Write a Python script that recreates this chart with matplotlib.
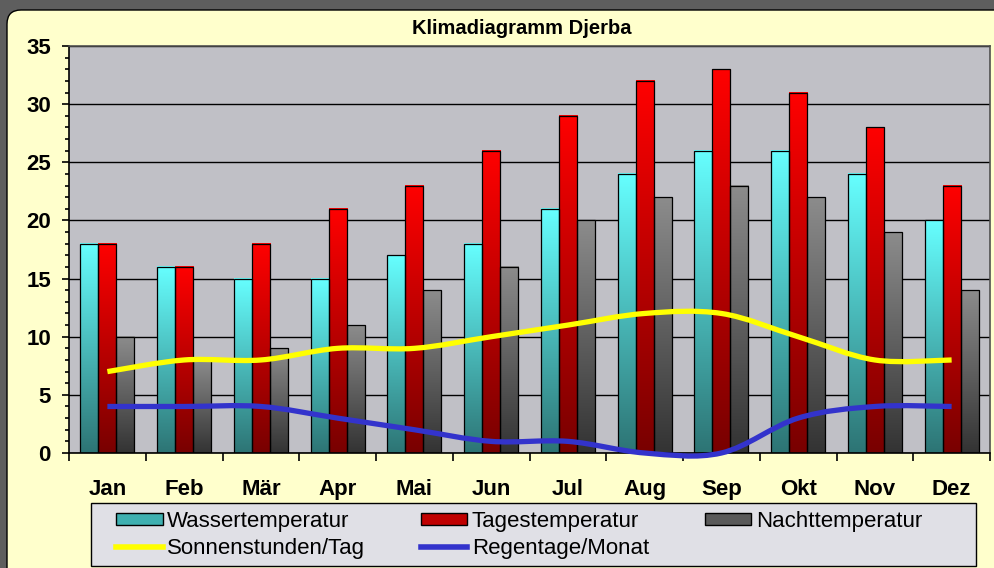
import matplotlib
matplotlib.use("Agg")
import matplotlib.pyplot as plt
import numpy as np
from matplotlib.colors import LinearSegmentedColormap
from matplotlib.patches import FancyBboxPatch, Patch, PathPatch, Rectangle
from matplotlib.path import Path
from matplotlib.lines import Line2D
from matplotlib.transforms import IdentityTransform

months = ['Jan', 'Feb', 'Mär', 'Apr', 'Mai', 'Jun', 'Jul', 'Aug', 'Sep', 'Okt', 'Nov', 'Dez']
wasser = [18, 16, 15, 15, 17, 18, 21, 24, 26, 26, 24, 20]
tages = [18, 16, 18, 21, 23, 26, 29, 32, 33, 31, 28, 23]
nacht = [10, 8, 9, 11, 14, 16, 20, 22, 23, 22, 19, 14]
sonne = [7, 8, 8, 9, 9, 10, 11, 12, 12, 10, 8, 8]
regen = [4, 4, 4, 3, 2, 1, 1, 0, 0, 3, 4, 4]

plt.rcParams['font.family'] = ['Liberation Sans', 'DejaVu Sans']
plt.rcParams['font.weight'] = 'bold'


def smooth_path(xs, ys):
    # excel-like smoothed line: cubic bezier through the data points
    n = len(xs)
    verts = [(xs[0], ys[0])]
    codes = [Path.MOVETO]
    for i in range(n - 1):
        xp, yp = (xs[i - 1], ys[i - 1]) if i > 0 else (xs[i], ys[i])
        xn2, yn2 = (xs[i + 2], ys[i + 2]) if i + 2 < n else (xs[i + 1], ys[i + 1])
        c1 = (xs[i] + (xs[i + 1] - xp) / 6, ys[i] + (ys[i + 1] - yp) / 6)
        c2 = (xs[i + 1] - (xn2 - xs[i]) / 6, ys[i + 1] - (yn2 - ys[i]) / 6)
        verts += [c1, c2, (xs[i + 1], ys[i + 1])]
        codes += [Path.CURVE4] * 3
    return Path(verts, codes)


fig = plt.figure(figsize=(9.94, 5.68), dpi=100, facecolor='#5e5e5e')

# yellow chart panel with rounded corner (pixel coords)
panel = FancyBboxPatch((7, -30), 1030, 568 - 10 + 30, boxstyle='round,pad=0,rounding_size=14',
                       transform=IdentityTransform(), facecolor='#ffffcc', edgecolor='black',
                       lw=1, zorder=-2)
fig.patches.append(panel)

# legend box
legbox = Rectangle((91, 2), 885, 63, transform=IdentityTransform(), facecolor='#e0e0e6',
                   edgecolor='black', lw=1, zorder=-1)
fig.patches.append(legbox)

ax = fig.add_axes([69 / 994, 1 - 453 / 568, (990 - 69) / 994, (453 - 46) / 568])
ax.set_facecolor('#c0c0c6')

x = np.arange(len(months))
w = 0.235
grad = np.linspace(1, 0, 256).reshape(-1, 1)

series = [
    (wasser, -w, ['#2d7474', '#66ffff']),
    (tages, 0, ['#780000', '#ff0000']),
    (nacht, w, ['#333333', '#8c8c8c']),
]
for vals, off, cols in series:
    cmap = LinearSegmentedColormap.from_list('g', cols)
    bars = ax.bar(x + off, vals, w, facecolor='none', edgecolor='black', lw=0.9, zorder=3)
    for b in bars:
        ax.imshow(grad, extent=[b.get_x(), b.get_x() + b.get_width(), 0, b.get_height()],
                  aspect='auto', cmap=cmap, zorder=2)

ax.add_patch(PathPatch(smooth_path(x, sonne), facecolor='none', edgecolor='#ffff00',
                       lw=3.8, capstyle='butt', zorder=4, clip_on=False))
ax.add_patch(PathPatch(smooth_path(x, regen), facecolor='none', edgecolor='#3333cc',
                       lw=3.8, capstyle='butt', zorder=4, clip_on=False))

ax.set_xlim(-0.5, 11.5)
ax.set_ylim(0, 35)

ax.set_yticks(range(0, 36, 5))
ax.set_yticks(range(36), minor=True)
ax.tick_params(axis='y', which='major', direction='out', length=5, width=1.2, pad=8, labelsize=16)
ax.tick_params(axis='y', which='minor', direction='out', length=3, width=1.2)

ax.set_xticks(x)
ax.set_xticklabels(months)
ax.set_xticks(np.arange(-0.5, 12, 1), minor=True)
ax.tick_params(axis='x', which='major', length=0, pad=19, labelsize=16)
ax.tick_params(axis='x', which='minor', direction='out', length=6, width=1.2)

ax.set_axisbelow(True)
ax.yaxis.grid(True, which='major', color='black', lw=1)
for s in ['left', 'bottom']:
    ax.spines[s].set_color('black')
    ax.spines[s].set_linewidth(1.2)
for s in ['top', 'right']:
    ax.spines[s].set_color('#505050')
    ax.spines[s].set_linewidth(1.2)

fig.text(522 / 994, 1 - 29 / 568, 'Klimadiagramm Djerba', ha='center', va='center',
         fontsize=14.5, fontweight='bold')

# --- legend ---
handles = [
    Patch(facecolor='#3fb0b0', edgecolor='black'),
    Line2D([], [], color='#ffff00', lw=4),
    Patch(facecolor='#c00000', edgecolor='black'),
    Line2D([], [], color='#3333cc', lw=4),
    Patch(facecolor='#5a5a5a', edgecolor='black'),
]
labels = ['Wassertemperatur', 'Sonnenstunden/Tag', 'Tagestemperatur', 'Regentage/Monat', 'Nachttemperatur']
leg = fig.legend(handles, labels, ncol=3, loc='upper left',
                 bbox_to_anchor=(116 / 994, 1 - 511 / 568), frameon=False,
                 prop={'size': 16, 'weight': 'normal'}, handlelength=2.1, handleheight=0.5,
                 handletextpad=0.2, borderaxespad=0, labelspacing=0.27, borderpad=0,
                 columnspacing=2.5)

fig.savefig('out.png', dpi=100, facecolor=fig.get_facecolor())
